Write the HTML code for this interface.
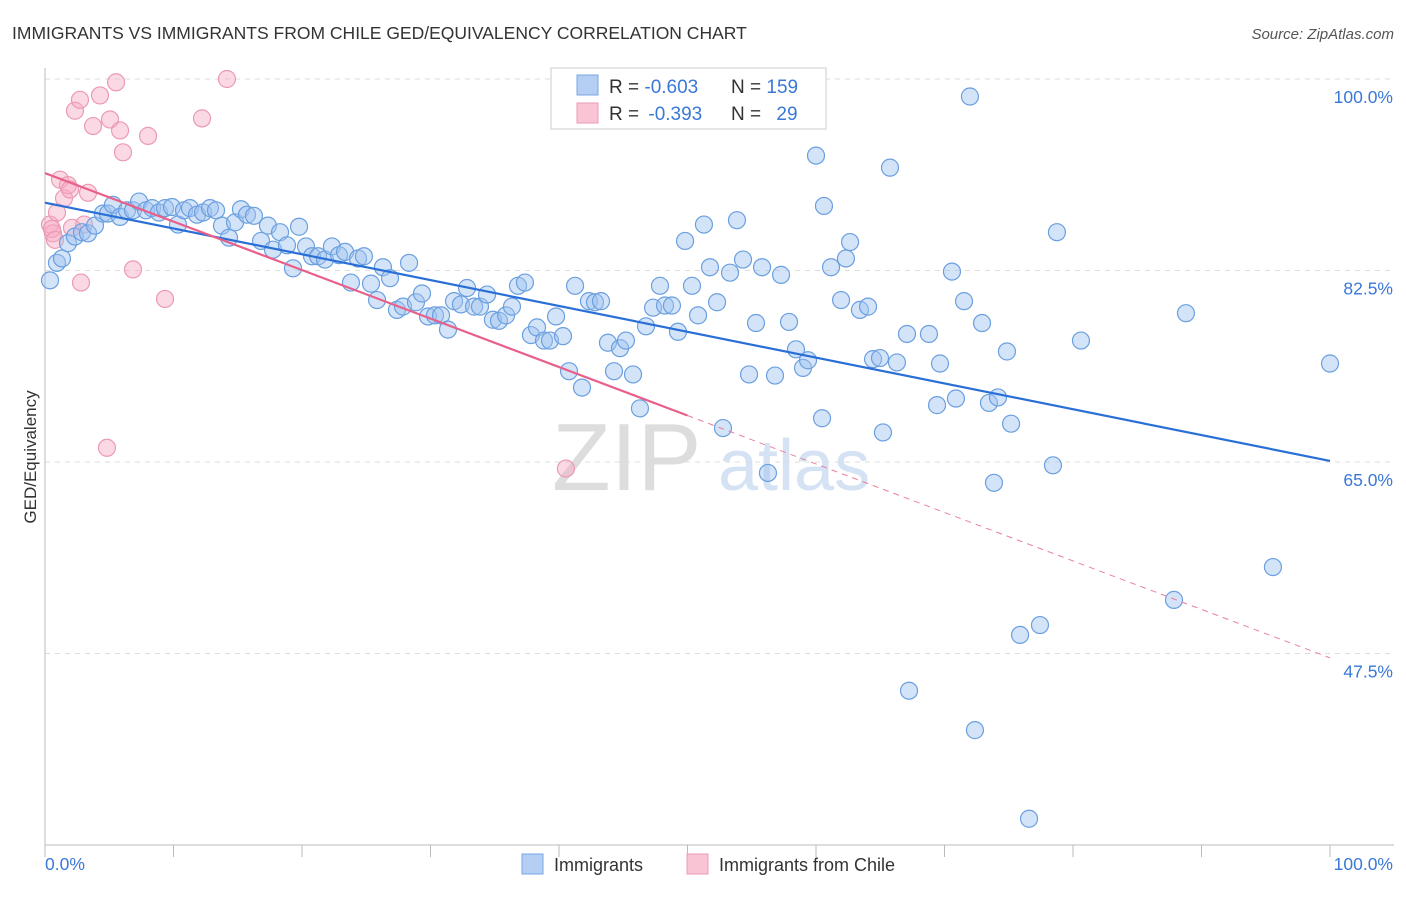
<!DOCTYPE html>
<html><head><meta charset="utf-8">
<style>
body{margin:0;background:#fff;font-family:"Liberation Sans",sans-serif;}
svg text{font-family:"Liberation Sans",sans-serif;}
</style></head>
<body>
<svg id="chart" width="1406" height="892" xmlns="http://www.w3.org/2000/svg">
<text x="12" y="39" font-size="17.5" fill="#333">IMMIGRANTS VS IMMIGRANTS FROM CHILE GED/EQUIVALENCY CORRELATION CHART</text>
<text x="1394" y="39" font-size="15" fill="#555" font-style="italic" text-anchor="end">Source: ZipAtlas.com</text>
<g>
<text x="552" y="490" font-size="96" fill="#ddd" font-family="Liberation Serif, serif">ZIP</text>
<text x="718" y="490" font-size="72" fill="#d4e2f4">atlas</text>
</g>
<g id="grid"></g>
<g id="axes"></g>
<g id="pinkpts"></g>
<g id="bluepts"></g>
<g id="trends"></g>
<text x="36" y="457" font-size="17" fill="#333" text-anchor="middle" transform="rotate(-90 36 457)">GED/Equivalency</text>
<g>
<rect x="551" y="68" width="275" height="61" fill="#fff" stroke="#ddd" stroke-width="1.5"/>
<rect x="577" y="75" width="21" height="20" fill="#b4cff3" stroke="#7aa6e6"/>
<rect x="577" y="103" width="21" height="20" fill="#f9c5d4" stroke="#ec9ab3"/>
<text x="609" y="93" font-size="19" fill="#333">R = <tspan fill="#3a78d8">-0.603</tspan></text>
<text x="731" y="93" font-size="19" fill="#333">N = <tspan fill="#3a78d8">159</tspan></text>
<text x="609" y="120" font-size="19" fill="#333">R = <tspan fill="#3a78d8" dx="4">-0.393</tspan></text>
<text x="731" y="120" font-size="19" fill="#333">N = <tspan fill="#3a78d8" dx="10">29</tspan></text>
</g>
<g>
<rect x="522" y="854" width="21" height="20" fill="#b4cff3" stroke="#7aa6e6"/>
<text x="554" y="871" font-size="18" fill="#333">Immigrants</text>
<rect x="687" y="854" width="21" height="20" fill="#f9c5d4" stroke="#ec9ab3"/>
<text x="719" y="871" font-size="18" fill="#333">Immigrants from Chile</text>
</g>
</svg>
<script>
const yTicks=[100,82.5,65,47.5];
const yTickLabels=["100.0%","82.5%","65.0%","47.5%"];
const xTickLabels=["0.0%","100.0%"];
const blueX=[0.39,0.93,1.32,1.79,2.33,2.88,3.35,3.89,4.51,4.90,5.29,5.84,6.38,6.85,7.32,7.86,8.33,8.87,9.34,9.88,10.35,10.82,11.28,11.83,12.30,12.84,13.31,13.77,14.32,14.79,15.25,15.72,16.26,16.81,17.35,17.74,18.29,18.83,19.30,19.77,20.31,20.78,21.25,21.79,22.33,22.88,23.35,23.81,24.36,24.82,25.37,25.84,26.30,26.85,27.39,27.86,28.33,28.87,29.34,29.81,30.35,30.82,31.36,31.83,32.37,32.84,33.39,33.85,34.40,34.86,35.33,35.88,36.34,36.81,37.35,37.82,38.29,38.83,39.30,39.77,40.31,40.78,41.25,41.79,42.33,42.80,43.27,43.81,44.28,44.75,45.21,45.76,46.30,46.77,47.32,47.86,48.25,48.79,49.26,49.81,50.35,50.82,51.28,51.75,52.30,52.76,53.31,53.85,54.32,54.79,55.33,55.80,56.26,56.81,57.28,57.90,58.44,58.99,59.38,60.00,60.47,60.62,61.17,61.95,62.33,62.65,63.42,64.05,64.44,64.98,65.21,65.76,66.30,67.08,67.24,68.79,69.42,69.65,70.58,70.89,71.52,71.98,72.37,72.92,73.46,73.85,74.16,74.86,75.18,75.88,76.58,77.43,78.44,78.75,80.62,87.86,88.79,95.56,100.0];
const blueY=[81.6,83.2,83.6,85.0,85.6,86.0,85.9,86.6,87.7,87.7,88.5,87.4,88.0,88.0,88.8,88.0,88.2,87.8,88.2,88.3,86.7,88.0,88.2,87.6,87.8,88.2,88.0,86.6,85.5,86.9,88.1,87.6,87.5,85.2,86.6,84.4,86.0,84.8,82.7,86.5,84.7,83.8,83.8,83.5,84.7,83.9,84.2,81.4,83.6,83.8,81.3,79.8,82.8,81.8,78.9,79.2,83.2,79.6,80.4,78.3,78.4,78.4,77.1,79.7,79.4,80.9,79.2,79.2,80.3,78.0,77.9,78.4,79.2,81.1,81.4,76.6,77.3,76.1,76.1,78.3,76.5,73.3,81.1,71.8,79.7,79.6,79.7,75.9,73.3,75.4,76.1,73.0,69.9,77.4,79.1,81.1,79.3,79.3,76.9,85.2,81.1,78.4,86.7,82.8,79.6,68.1,82.3,87.1,83.5,73.0,77.7,82.8,64.0,72.9,82.1,77.8,75.3,73.6,74.3,93.0,69.0,88.4,82.8,79.8,83.6,85.1,78.9,79.2,74.4,74.5,67.7,91.9,74.1,76.7,44.1,76.7,70.2,74.0,82.4,70.8,79.7,98.4,40.5,77.7,70.4,63.1,70.9,75.1,68.5,49.2,32.4,50.1,64.7,86.0,76.1,52.4,78.6,55.4,74.0];
const pinkX=[0.39,0.62,0.93,1.17,1.48,1.79,1.95,2.33,2.72,2.80,3.04,3.35,3.74,4.28,4.82,5.06,5.53,5.84,6.07,6.85,8.02,9.34,12.22,14.16,40.54,0.54,0.78,2.10];
const pinkY=[86.7,85.9,87.8,90.8,89.1,90.3,89.9,97.1,98.1,81.4,86.7,89.6,95.7,98.5,66.3,96.3,99.7,95.3,93.3,82.6,94.8,79.9,96.4,100.0,64.4,86.3,85.3,86.4];
const blueTrend=[88.7,65.1];
const pinkTrend=[91.4,47.1];
const pinkSolidEnd=50;

const NS="http://www.w3.org/2000/svg";
const X0=45,X1=1330,YT=79,PXPER=10.943;
function sx(v){return X0+(X1-X0)*v/100;}
function sy(v){return YT+(100-v)*PXPER;}
function mk(tag,attrs,parent){const e=document.createElementNS(NS,tag);for(const k in attrs)e.setAttribute(k,attrs[k]);parent.appendChild(e);return e;}
const grid=document.getElementById('grid'),axes=document.getElementById('axes');
yTicks.forEach((t,i)=>{
  const l=mk('line',{x1:X0,x2:1394,y1:sy(t),y2:sy(t),stroke:'#ddd','stroke-dasharray':'5,5'},grid);
  
  
  const tx=mk('text',{x:1393,y:sy(t)+24,'font-size':17.5,fill:'#3a78d8','text-anchor':'end'},axes);
  tx.textContent=yTickLabels[i];
  
  
});
const xa=mk('line',{x1:X0,x2:1394,y1:845,y2:845,stroke:'#bbb'},axes);


const ya=mk('line',{x1:X0,x2:X0,y1:68,y2:845,stroke:'#bbb'},axes);


for(let i=0;i<=10;i++){
  const t=mk('line',{x1:sx(i*10),x2:sx(i*10),y1:845,y2:857,stroke:'#bbb'},axes);
  
  
}
const xl0=mk('text',{x:45,y:870,'font-size':17.5,fill:'#3a78d8'},axes);
xl0.textContent=xTickLabels[0];


const xl1=mk('text',{x:1393,y:870,'font-size':17.5,fill:'#3a78d8','text-anchor':'end'},axes);
xl1.textContent=xTickLabels[1];



const pg=document.getElementById('pinkpts');
pinkX.forEach((x,i)=>{
  const c=mk('circle',{cx:sx(x),cy:sy(pinkY[i]),r:8.5,fill:'rgba(246,170,195,0.45)',stroke:'#ec9ab3','stroke-width':1.2},pg);
  
  
});
const bg=document.getElementById('bluepts');
blueX.forEach((x,i)=>{
  const c=mk('circle',{cx:sx(x),cy:sy(blueY[i]),r:8.5,fill:'rgba(160,195,240,0.45)',stroke:'#6a9fe0','stroke-width':1.2},bg);
  
  
});
const tg=document.getElementById('trends');
const bt=mk('line',{x1:sx(0),y1:sy(blueTrend[0]),x2:sx(100),y2:sy(blueTrend[1]),stroke:'#2a6fd6','stroke-width':2.2},tg);


const pm=pinkTrend[0]+(pinkTrend[1]-pinkTrend[0])*pinkSolidEnd/100;
const pt=mk('line',{x1:sx(0),y1:sy(pinkTrend[0]),x2:sx(pinkSolidEnd),y2:sy(pm),stroke:'#e8608a','stroke-width':2.2},tg);


const pd=mk('line',{x1:sx(pinkSolidEnd),y1:sy(pm),x2:sx(100),y2:sy(pinkTrend[1]),stroke:'#e8809f','stroke-width':1,'stroke-dasharray':'6,5'},tg);


</script>
</body></html>
